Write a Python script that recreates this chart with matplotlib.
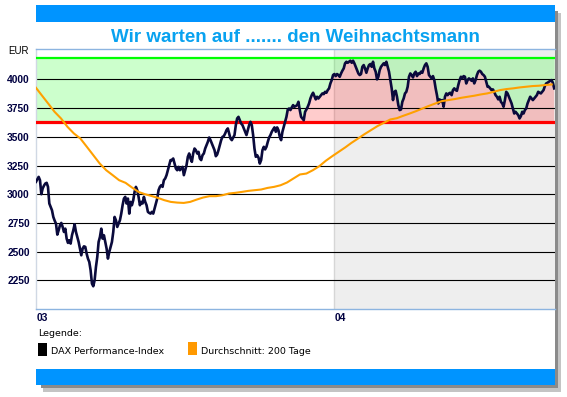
import matplotlib
matplotlib.use('Agg')
import matplotlib.pyplot as plt
import matplotlib.dates as mdates
from matplotlib.patches import Rectangle
import numpy as np
import pandas as pd

# DAX Performance-Index (roughly every 2.5 trading days)
dax = [3108, 3130, 3151, 3122, 3000, 3050, 3075, 3093, 3099, 3064, 2919, 2890, 2860, 2802, 2770,
       2744, 2648, 2686, 2730, 2750, 2715, 2671, 2700, 2613, 2576, 2599, 2570, 2642, 2686, 2738,
       2671, 2628, 2584, 2526, 2468, 2526, 2546, 2541, 2483, 2439, 2410, 2337, 2221, 2198, 2250,
       2366, 2454, 2584, 2628, 2700, 2613, 2642, 2584, 2526, 2439, 2497, 2541, 2584, 2671, 2802,
       2773, 2715, 2744, 2773, 2831, 2904, 2962,
       2977, 2919, 2962, 2831, 2933, 2904, 2948, 3020, 3064, 3035, 2977, 2904, 2933, 2919, 2977,
       2933, 2904, 2846, 2837, 2831, 2846, 2831, 2875, 2919, 2962, 3035, 3064, 3078, 3064, 3122,
       3137, 3166, 3209, 3253, 3297, 3297, 3311, 3267, 3224, 3209, 3238, 3209, 3224, 3238, 3166,
       3209, 3253, 3326, 3355, 3311, 3282, 3355, 3398, 3384, 3355, 3369, 3311, 3297, 3340, 3355,
       3398, 3427, 3456, 3494, 3471, 3442, 3413, 3384,
       3331, 3346, 3384, 3427, 3471, 3500, 3506, 3529, 3558, 3573, 3529, 3485, 3471, 3494, 3515,
       3602, 3660, 3674, 3645, 3616, 3602, 3573, 3544, 3515, 3558, 3602, 3631, 3602, 3515, 3398,
       3326, 3340, 3320, 3267, 3297, 3384, 3413, 3390, 3413, 3456, 3494, 3515, 3544, 3564, 3582,
       3544, 3582, 3558, 3500, 3471, 3544, 3587, 3631, 3674, 3738, 3747, 3733, 3756, 3776, 3762,
       3768, 3776, 3805, 3733, 3674, 3660, 3645,
       3718, 3738, 3762, 3791, 3834, 3863, 3884, 3855, 3826, 3849, 3834, 3849, 3863, 3878, 3872,
       3892, 3884, 3907, 3922, 3965, 3994, 4038, 4047, 4029, 4047, 4038, 4023, 4052, 4076, 4096,
       4140, 4154, 4145, 4154, 4163, 4145, 4163, 4140, 4110, 4081, 4052, 4038, 4047, 4110, 4125,
       4096, 4058, 4096, 4125, 4134, 4110, 4154, 4096, 4067, 4000, 4023, 4081, 4110, 4125, 4140,
       4125, 4154, 4110, 4067, 3994, 3922, 3820,
       3892, 3901, 3849, 3776, 3733, 3738, 3805, 3834, 3878, 3892, 3936, 4023, 4052, 4038, 4017,
       4052, 4067, 4029, 4052, 4047, 4067, 4058, 4096, 4125, 4140, 4110, 4038, 4023, 4009, 4029,
       3994, 3922, 3863, 3791, 3826, 3805, 3820, 3762, 3849, 3878, 3863, 3878, 3884, 3863, 3907,
       3922, 3907, 3901, 3951, 3994, 4023, 4009, 4029, 4023, 3965, 3994, 4009, 4000, 3988, 4009,
       3965, 3994, 4038, 4067, 4076, 4067, 4047, 4038,
       4023, 3980, 3936, 3936, 3922, 3907, 3913, 3892, 3863, 3849, 3826, 3849, 3805, 3791, 3762,
       3820, 3892, 3878, 3849, 3820, 3791, 3747, 3703, 3718, 3703, 3689, 3660, 3680, 3718, 3703,
       3733, 3747, 3791, 3820, 3849, 3834, 3820, 3834, 3849, 3863, 3892, 3884, 3878, 3892, 3907,
       3942, 3965, 3971, 3980, 3988, 3994, 3971, 3922]

# Durchschnitt 200 Tage
ma200 = [3936, 3863, 3791, 3718, 3660, 3587, 3529, 3485, 3413, 3340, 3267, 3209, 3166, 3122,
         3099, 3058, 3020, 3000, 2985, 2968, 2948, 2933, 2927, 2924, 2933, 2953, 2971, 2983,
         2983, 2991, 3006, 3012, 3020, 3029, 3035, 3041, 3055, 3064, 3078, 3102, 3137, 3172,
         3180, 3209, 3244, 3291, 3331, 3369, 3407, 3448, 3485, 3523, 3558, 3593, 3622, 3651,
         3662, 3683, 3703, 3724, 3747, 3770, 3791, 3811, 3820, 3829, 3840, 3849, 3858, 3869,
         3878, 3892, 3907, 3916, 3922, 3930, 3936, 3942, 3945, 3951, 3956]

dax_start, dax_end = '2002-12-31', '2004-09-27'
ma_start, ma_end = '2002-12-30', '2004-09-24'

upper_level = 4189
lower_level = 3628
y_ticks = [2250, 2500, 2750, 3000, 3250, 3500, 3750, 4000]
year_ticks = ['2003-01-01', '2004-01-01']
year_labels = ['03', '04']

dax = np.array(dax, dtype=float)
dax_dates = pd.date_range(dax_start, dax_end, periods=len(dax))
ma_dates = pd.date_range(ma_start, ma_end, periods=len(ma200))

W, H = 567, 397
fig = plt.figure(figsize=(W / 100, H / 100), dpi=100)
fig.patch.set_facecolor('white')


def box(x0, y0, x1, y1, color):
    # rectangle in pixel coords (y from top)
    fig.add_artist(Rectangle((x0 / W, 1 - y1 / H), (x1 - x0) / W, (y1 - y0) / H,
                             transform=fig.transFigure, facecolor=color,
                             edgecolor='none', zorder=0))


# shadow + blue bars
box(555, 11, 558, 391, '#8a8a8a')
box(558, 13, 561, 392, '#c4c4c4')
box(41, 385, 558, 388, '#8a8a8a')
box(43, 388, 561, 392, '#c4c4c4')
box(36, 5, 555, 22, '#0094ff')
box(36, 369, 555, 385, '#0094ff')

fig.text(295 / W, 1 - 38 / H, 'Wir warten auf ....... den Weihnachtsmann',
         ha='center', va='center', color='#08a2f0', fontsize=13.5,
         fontweight='bold', family='Liberation Sans')

ax = fig.add_axes([36 / W, 1 - 309 / H, 519 / W, 260 / H])
ax.set_facecolor('white')

x_left = pd.Timestamp('2002-12-31')
x_right = pd.Timestamp('2004-09-28')
y2004 = pd.Timestamp('2004-01-01')

ax.axvspan(y2004, x_right, color='#eeeeee', lw=0, zorder=0)
ax.axvline(y2004, color='#d6d6d6', lw=1, zorder=0.5)

# bands
ax.fill_between(dax_dates, np.maximum(dax, lower_level), upper_level,
                color=(0, 1, 0), alpha=0.2, lw=0, zorder=1)
ax.fill_between(dax_dates, lower_level, dax, where=dax > lower_level,
                interpolate=True, color=(1, 0, 0), alpha=0.2, lw=0, zorder=1)

for v in y_ticks:
    ax.axhline(v, color='black', lw=0.8, zorder=2)

ax.axhline(upper_level, color='#00ff00', lw=1.6, zorder=3)
ax.axhline(lower_level, color='#ff0000', lw=2.3, zorder=3)

ax.plot(dax_dates, dax, color='#0a0a3c', lw=1.9, zorder=4)
ax.plot(ma_dates, ma200, color='#ffa000', lw=1.5, zorder=5)

ax.set_xlim(x_left, x_right)
ax.set_ylim(2000, 4265)

ax.set_yticks(y_ticks)
ax.set_yticklabels([str(v) for v in y_ticks])
ax.set_xticks(pd.to_datetime(year_ticks))
ax.set_xticklabels(year_labels)
for lab in ax.get_xticklabels():
    lab.set_horizontalalignment('left')
ax.tick_params(length=0, colors='#000040', labelsize=7.4)
ax.tick_params(axis='y', pad=4.5)
ax.tick_params(axis='x', pad=3)
for lab in ax.get_xticklabels() + ax.get_yticklabels():
    lab.set_fontweight('bold')
    lab.set_family('Liberation Sans')

ax.spines['right'].set_visible(False)
ax.spines['left'].set_color('#d0d8e4')
ax.spines['top'].set_color('#8cb4e0')
ax.spines['bottom'].set_color('#8cb4e0')
for s in ax.spines.values():
    s.set_linewidth(1)

fig.text(29 / W, 1 - 51 / H, 'EUR', ha='right', va='center', fontsize=7,
         family='Liberation Sans', color='black')

# legend
fig.text(38 / W, 1 - 334 / H, 'Legende:', ha='left', va='center', fontsize=6.8,
         color='black')
box(38, 343, 47, 356, 'black')
fig.text(51 / W, 1 - 351.5 / H, 'DAX Performance-Index', ha='left', va='center',
         fontsize=6.8, color='black')
box(188, 342, 197, 355, '#ff9900')
fig.text(201 / W, 1 - 351.5 / H, 'Durchschnitt: 200 Tage', ha='left', va='center',
         fontsize=6.8, color='black')

fig.savefig('out.png', dpi=100)
